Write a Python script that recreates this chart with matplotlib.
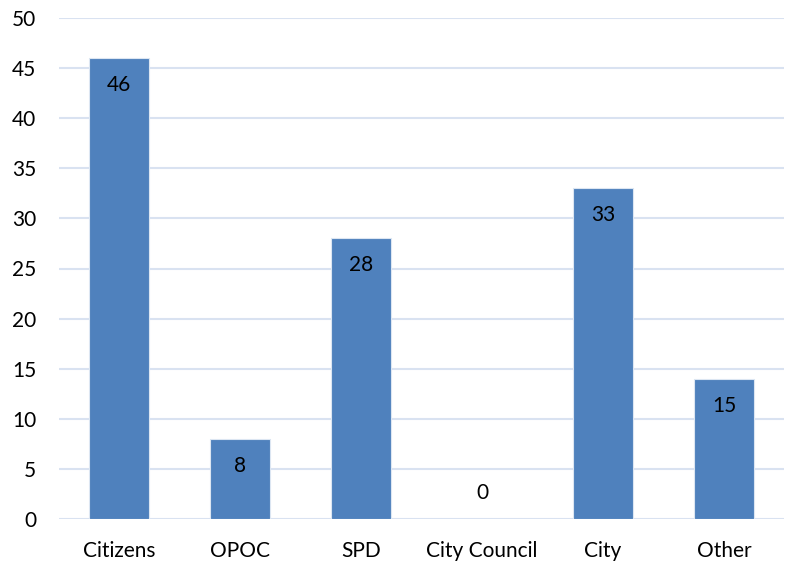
import matplotlib
matplotlib.use("Agg")
import matplotlib.pyplot as plt

categories = ["Citizens", "OPOC", "SPD", "City Council", "City", "Other"]
values = [46, 8, 28, 0, 33, 14]
labels = ["46", "8", "28", "0", "33", "15"]

BAR_COLOR = "#4F81BD"
GRID_COLOR = "#D9E2F1"

plt.rcParams["font.family"] = ["Lato", "DejaVu Sans"]

fig = plt.figure(figsize=(7.93, 5.63), dpi=100)
ax = fig.add_axes([58.5 / 793, 44 / 563, 726 / 793, 501 / 563])

x = list(range(len(categories)))
ax.bar(x, values, width=0.5, color=BAR_COLOR, edgecolor="#DCE6F2", linewidth=0.8, zorder=3)

for xi, v, lab in zip(x, values, labels):
    # label sits just under the bar top; zero bar gets it above the baseline
    y = v - 2.7 if v > 3 else v + 2.6
    ax.text(xi, y, lab, ha="center", va="center", fontsize=15, color="black", zorder=4)

ax.set_xlim(-0.5, len(categories) - 0.5)
ax.set_ylim(0, 50)
ax.set_yticks(range(0, 51, 5))
ax.set_xticks(x)
ax.set_xticklabels(categories)
ax.tick_params(axis="both", length=0, labelsize=15)
ax.tick_params(axis="y", pad=16)
ax.tick_params(axis="x", pad=16)
ax.grid(True, axis="y", color=GRID_COLOR, linewidth=1.5, zorder=0)
for s in ax.spines.values():
    s.set_visible(False)

fig.savefig("out.png", dpi=100)
